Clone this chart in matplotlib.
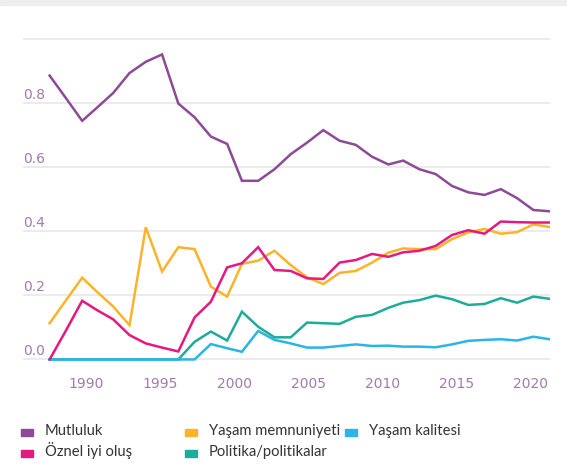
import matplotlib

matplotlib.use("Agg")
import matplotlib.pyplot as plt
from matplotlib.patches import Rectangle
from matplotlib.transforms import blended_transform_factory, offset_copy


# x positions, in units of the year axis
YEARS = [1987.5, 1988.6, 1989.7, 1990.7, 1991.8, 1992.9, 1994.0, 1995.1, 1996.2, 1997.3,
         1998.4, 1999.5, 2000.5, 2001.6, 2002.7, 2003.8, 2004.9, 2006.0, 2007.1, 2008.2,
         2009.3, 2010.4, 2011.4, 2012.5, 2013.6, 2014.7, 2015.8, 2016.9, 2018.0, 2019.1,
         2020.2, 2021.3]

MUTLULUK = [0.885, 0.815, 0.744, 0.785, 0.831, 0.893, 0.928, 0.951, 0.798, 0.755,
            0.695, 0.672, 0.557, 0.557, 0.593, 0.640, 0.676, 0.715, 0.682, 0.669,
            0.632, 0.608, 0.620, 0.593, 0.578, 0.541, 0.521, 0.513, 0.531, 0.503,
            0.466, 0.462]
OZNEL = [0.0, 0.09, 0.183, 0.154, 0.125, 0.076, 0.050, 0.037, 0.025, 0.131,
         0.180, 0.287, 0.300, 0.350, 0.279, 0.276, 0.253, 0.251, 0.302, 0.310,
         0.329, 0.320, 0.334, 0.339, 0.354, 0.388, 0.403, 0.392, 0.430, 0.428,
         0.427, 0.427]
MEMNUNIYET = [0.113, 0.184, 0.255, 0.211, 0.165, 0.107, 0.412, 0.274, 0.350, 0.344,
              0.227, 0.196, 0.298, 0.308, 0.339, 0.294, 0.256, 0.235, 0.270, 0.276,
              0.302, 0.333, 0.346, 0.344, 0.344, 0.375, 0.396, 0.407, 0.392, 0.397,
              0.421, 0.413]
POLITIKA = [0.0, 0.0, 0.0, 0.0, 0.0, 0.0, 0.0, 0.0, 0.0, 0.055,
            0.087, 0.059, 0.149, 0.102, 0.069, 0.069, 0.115, 0.113, 0.111, 0.133,
            0.139, 0.161, 0.177, 0.185, 0.199, 0.188, 0.170, 0.173, 0.191, 0.177,
            0.196, 0.189]
KALITE = [0.0, 0.0, 0.0, 0.0, 0.0, 0.0, 0.0, 0.0, 0.0, 0.0,
          0.048, 0.035, 0.024, 0.089, 0.061, 0.050, 0.037, 0.037, 0.042, 0.047,
          0.042, 0.043, 0.040, 0.040, 0.038, 0.047, 0.058, 0.061, 0.063, 0.059,
          0.071, 0.063]

X_TICKS = [1990, 1995, 2000, 2005, 2010, 2015, 2020]
Y_TICKS = [0.0, 0.2, 0.4, 0.6, 0.8]
Y_GRID = [0.0, 0.2, 0.4, 0.6, 0.8, 1.0]

SERIES = [
    ("Politika/politikalar", POLITIKA, "#1eab9a"),
    ("Yaşam kalitesi", KALITE, "#2bb5e6"),
    ("Yaşam memnuniyeti", MEMNUNIYET, "#fbb42a"),
    ("Öznel iyi oluş", OZNEL, "#e5197f"),
    ("Mutluluk", MUTLULUK, "#8c4a97"),
]
COLORS = {name: color for name, _, color in SERIES}

# legend slots: (label, x px, y px of baseline)
LEGEND_SLOTS = [
    ("Mutluluk", 21, 435),
    ("Öznel iyi oluş", 21, 456),
    ("Yaşam memnuniyeti", 185, 435),
    ("Politika/politikalar", 185, 456),
    ("Yaşam kalitesi", 345, 435),
]

TICK_COLOR = "#a27bab"
W, H = 567, 473


def main():
    fig = plt.figure(figsize=(W / 100, H / 100), dpi=100)
    fig.patches.append(Rectangle((0, 1 - 5 / H), 1, 5 / H, transform=fig.transFigure,
                                 color="#eeeeee", zorder=0))

    ax = fig.add_axes([23 / W, 0.2197, (549.6 - 23) / W, 0.712])
    for y in Y_GRID:
        ax.axhline(y, color="#e8e8e8", linewidth=1.2, zorder=1)

    for name, values, color in SERIES:
        ax.plot(YEARS, values, color=color, linewidth=1.8, solid_joinstyle="miter", zorder=3)

    ax.set_xlim(1985.7, 2021.3)
    ax.set_ylim(-0.03, 1.02)
    ax.set_xticks(X_TICKS)
    ax.set_xticklabels([str(x) for x in X_TICKS])
    ax.tick_params(axis="x", length=0, pad=6, labelsize=10, labelcolor=TICK_COLOR)
    ax.set_yticks([])
    for side in ["top", "right", "bottom", "left"]:
        ax.spines[side].set_visible(False)

    trans = offset_copy(blended_transform_factory(ax.transAxes, ax.transData),
                        fig=fig, x=0, y=4, units="dots")
    for y in Y_TICKS:
        ax.text(0, y, f"{y:.1f}", transform=trans, ha="left", va="baseline",
                fontsize=10, color=TICK_COLOR)

    for label, x, y in LEGEND_SLOTS:
        fig.patches.append(Rectangle((x / W, 1 - (y + 0.5) / H), 12 / W, 7 / H,
                                     transform=fig.transFigure, color=COLORS[label]))
        fig.text((x + 24) / W, 1 - y / H, label, ha="left", va="baseline",
                 fontsize=10.6, family="Lato", color="#333333")

    fig.savefig("out.png", dpi=100)
    plt.close(fig)


if __name__ == "__main__":
    main()
